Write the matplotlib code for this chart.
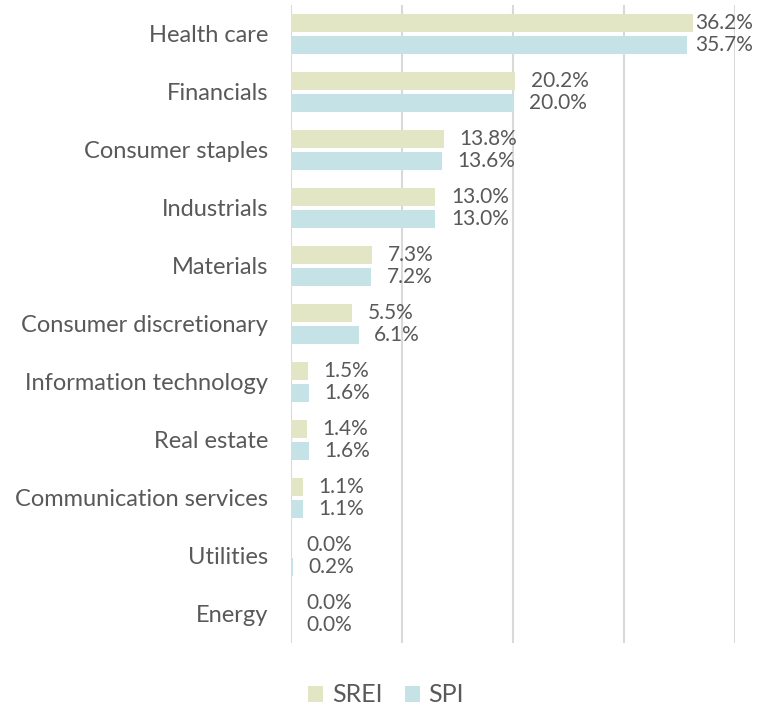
import matplotlib
matplotlib.use("Agg")
import matplotlib.pyplot as plt
import numpy as np

categories = ["Health care", "Financials", "Consumer staples", "Industrials", "Materials",
              "Consumer discretionary", "Information technology", "Real estate",
              "Communication services", "Utilities", "Energy"]
srei = [36.2, 20.2, 13.8, 13.0, 7.3, 5.5, 1.5, 1.4, 1.1, 0.0, 0.0]
spi = [35.7, 20.0, 13.6, 13.0, 7.2, 6.1, 1.6, 1.6, 1.1, 0.2, 0.0]
series_names = ["SREI", "SPI"]
colors = ["#e2e6c4", "#c5e2e7"]
text_color = "#595959"

plt.rcParams['font.family'] = ['Lato', 'DejaVu Sans']

fig = plt.figure(figsize=(7.63, 7.09), dpi=100)
W, H = 763, 709
ax = fig.add_axes([291 / W, 1 - 643 / H, (735 - 291) / W, (643 - 5) / H])

y = np.arange(len(categories))
off = 0.19
h = 0.31
ax.barh(y - off, srei, height=h, color=colors[0], label=series_names[0], zorder=2)
ax.barh(y + off, spi, height=h, color=colors[1], label=series_names[1], zorder=2)

for i, (a, b) in enumerate(zip(srei, spi)):
    ax.text(min(a + 1.4, 36.4), i - off, f"{a:.1f}%", va="center", ha="left",
            fontsize=15, color=text_color)
    ax.text(min(b + 1.4, 36.4), i + off, f"{b:.1f}%", va="center", ha="left",
            fontsize=15, color=text_color)

ax.set_xlim(0, 40)
ax.set_ylim(len(categories) - 0.5, -0.5)
ax.set_xticks([0, 10, 20, 30, 40])
ax.set_xticklabels([])
ax.tick_params(axis="x", length=0)
ax.set_yticks(y)
ax.set_yticklabels(categories, fontsize=17, color=text_color)
ax.tick_params(axis="y", length=0, pad=16.5)
ax.grid(axis="x", color="#d9d9d9", linewidth=1.5, zorder=0)
for s in ax.spines.values():
    s.set_visible(False)

leg = fig.legend(loc="center", bbox_to_anchor=(386 / W, 1 - 695 / H), ncol=2, frameon=False,
                 fontsize=18, handlelength=0.6, handleheight=0.6, handletextpad=0.35,
                 columnspacing=0.9)
for t in leg.get_texts():
    t.set_color(text_color)

fig.savefig("out.png", dpi=100)
